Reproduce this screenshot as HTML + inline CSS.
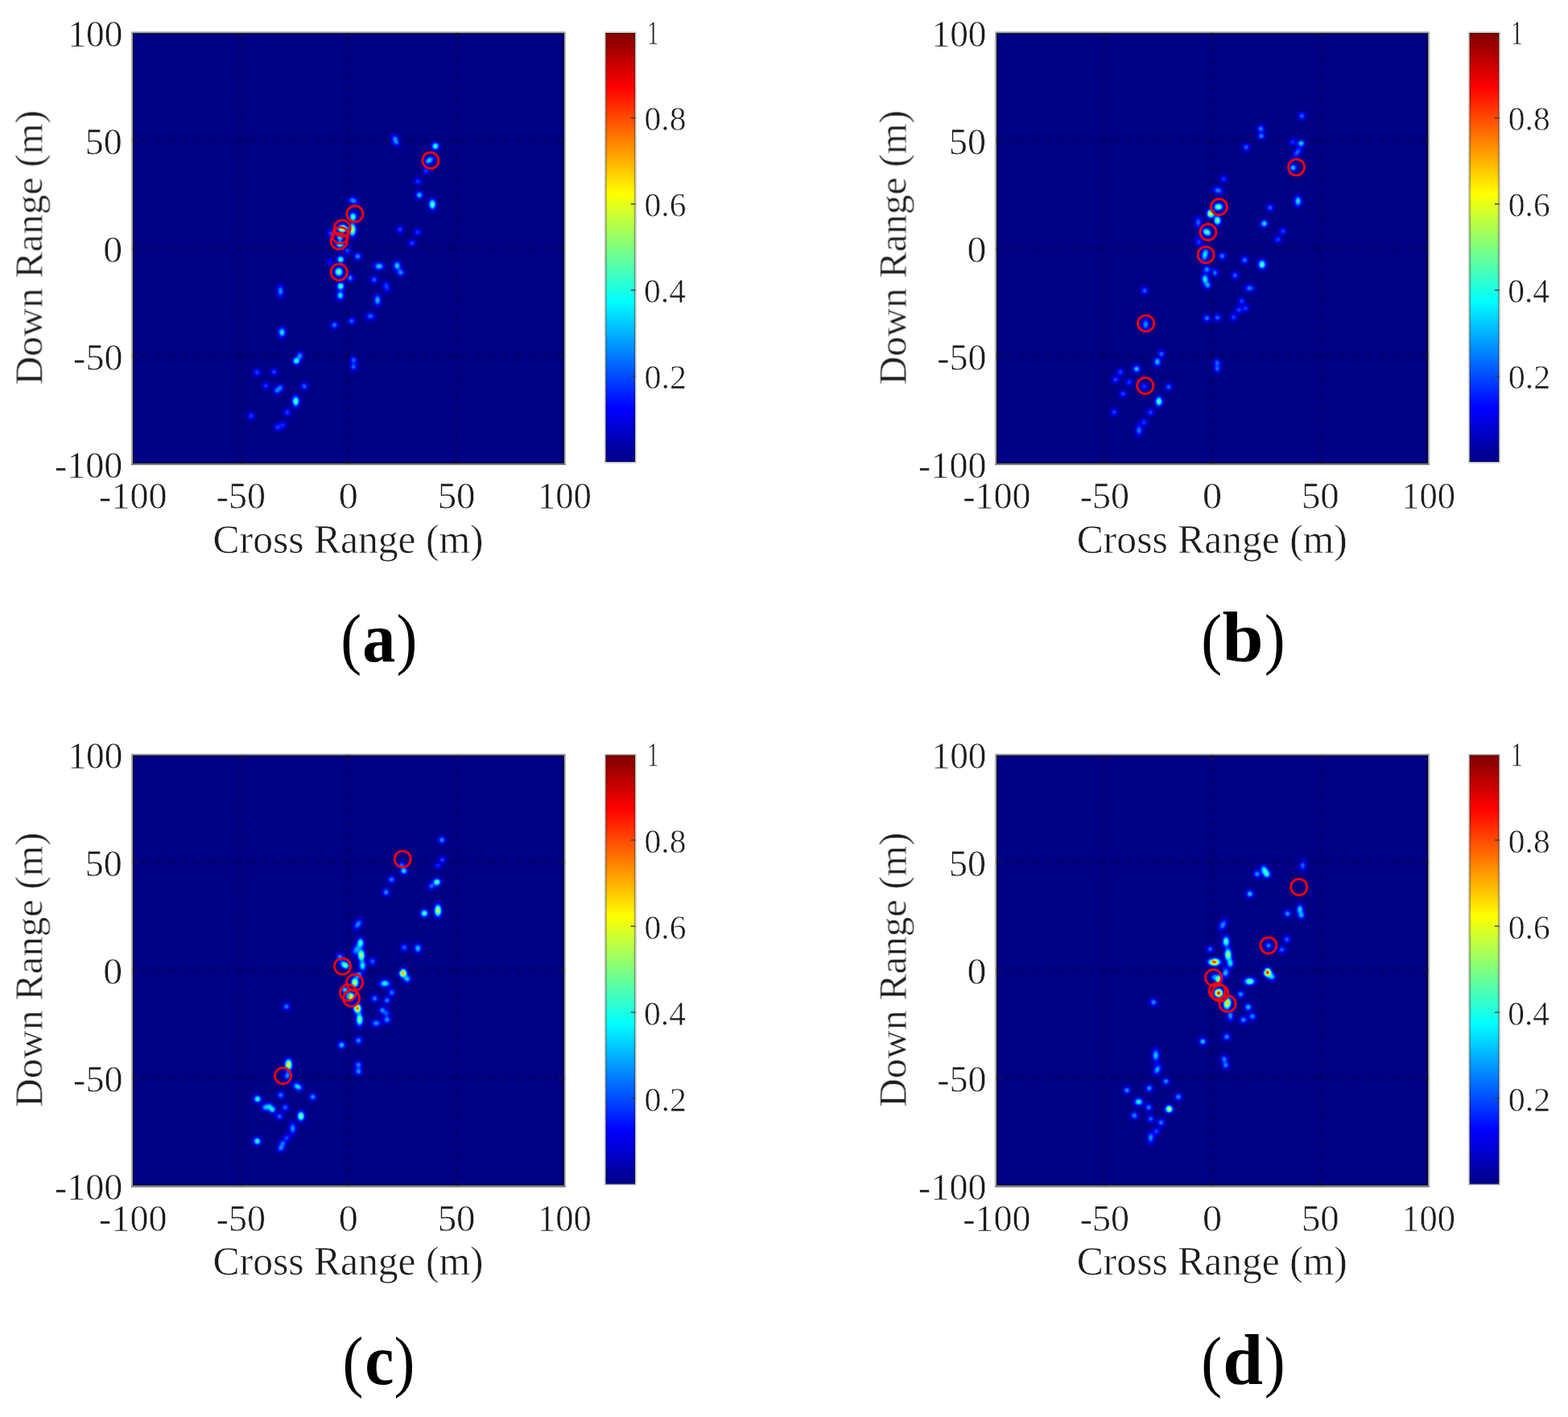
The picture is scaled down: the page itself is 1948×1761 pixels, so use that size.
<!DOCTYPE html>
<html lang="en"><head><meta charset="utf-8"><title>Figure</title>
<style>html,body{margin:0;padding:0;background:#fff}body{width:1948px;height:1761px;overflow:hidden}svg{display:block}text{font-family:"Liberation Serif","DejaVu Serif",serif;fill:#1c1c1c;stroke:#fff;stroke-width:.55px;paint-order:fill stroke}.t{font-size:46px}.cb{font-size:41.5px}.ax{font-size:49.6px}.cap{font-size:86px;fill:#000;stroke:none}</style></head><body>
<svg width="1948" height="1761" viewBox="0 0 1948 1761">
<defs>
<filter id="tx" x="-5%" y="-20%" width="110%" height="140%"><feGaussianBlur stdDeviation="0.55"/></filter>
<filter id="ring" x="-2%" y="-2%" width="104%" height="104%"><feGaussianBlur stdDeviation="0.5"/></filter>
<filter id="soft" x="-2%" y="-2%" width="104%" height="104%"><feGaussianBlur stdDeviation="0.85"/></filter>
<linearGradient id="jet" x1="0" y1="0" x2="0" y2="1"><stop offset="0.000" stop-color="#800000"/><stop offset="0.125" stop-color="#ff0000"/><stop offset="0.375" stop-color="#ffff00"/><stop offset="0.625" stop-color="#00ffff"/><stop offset="0.875" stop-color="#0000ff"/><stop offset="1.000" stop-color="#000085"/></linearGradient>
<radialGradient id="gs"><stop offset="0.000" stop-color="#fff" stop-opacity="1.000"/><stop offset="0.062" stop-color="#fff" stop-opacity="0.983"/><stop offset="0.125" stop-color="#fff" stop-opacity="0.932"/><stop offset="0.188" stop-color="#fff" stop-opacity="0.854"/><stop offset="0.250" stop-color="#fff" stop-opacity="0.755"/><stop offset="0.312" stop-color="#fff" stop-opacity="0.644"/><stop offset="0.375" stop-color="#fff" stop-opacity="0.531"/><stop offset="0.438" stop-color="#fff" stop-opacity="0.423"/><stop offset="0.500" stop-color="#fff" stop-opacity="0.325"/><stop offset="0.562" stop-color="#fff" stop-opacity="0.241"/><stop offset="0.625" stop-color="#fff" stop-opacity="0.172"/><stop offset="0.688" stop-color="#fff" stop-opacity="0.119"/><stop offset="0.750" stop-color="#fff" stop-opacity="0.080"/><stop offset="0.812" stop-color="#fff" stop-opacity="0.051"/><stop offset="0.875" stop-color="#fff" stop-opacity="0.032"/><stop offset="0.938" stop-color="#fff" stop-opacity="0.019"/><stop offset="1.000" stop-color="#fff" stop-opacity="0.000"/></radialGradient>
<filter id="jetmap" x="0" y="0" width="100%" height="100%" color-interpolation-filters="sRGB"><feGaussianBlur stdDeviation="0.6"/><feComponentTransfer><feFuncR type="table" tableValues="0 0 0 0 .5 1 1 1 .5"/><feFuncG type="table" tableValues="0 0 .5 1 1 1 .5 0 0"/><feFuncB type="table" tableValues="0.522 1 1 1 .5 0 0 0 0"/><feFuncA type="linear" slope="0" intercept="1"/></feComponentTransfer></filter>
</defs>
<g transform="translate(0.0,0.0)">
<g filter="url(#jetmap)">
<rect x="165" y="41" width="536" height="535" fill="#000"/>
<ellipse cx="410.1" cy="325.6" rx="9.1" ry="9.1" fill="url(#gs)" fill-opacity="0.13"/>
<ellipse cx="481.0" cy="359.4" rx="9.1" ry="9.1" fill="url(#gs)" fill-opacity="0.14"/>
<ellipse cx="479.4" cy="354.1" rx="9.1" ry="9.1" fill="url(#gs)" fill-opacity="0.17"/>
<ellipse cx="351.6" cy="527.9" rx="9.1" ry="9.1" fill="url(#gs)" fill-opacity="0.17"/>
<ellipse cx="529.5" cy="212.4" rx="9.1" ry="9.1" fill="url(#gs)" fill-opacity="0.19"/>
<ellipse cx="519.2" cy="225.5" rx="9.1" ry="9.1" fill="url(#gs)" fill-opacity="0.19"/>
<ellipse cx="410.9" cy="290.1" rx="8.8" ry="11.9" fill="url(#gs)" fill-opacity="0.19"/>
<ellipse cx="518.7" cy="288.6" rx="9.1" ry="9.1" fill="url(#gs)" fill-opacity="0.19"/>
<ellipse cx="330.3" cy="479.4" rx="9.1" ry="9.1" fill="url(#gs)" fill-opacity="0.19"/>
<ellipse cx="344.7" cy="531.0" rx="9.1" ry="9.1" fill="url(#gs)" fill-opacity="0.19"/>
<ellipse cx="497.1" cy="285.2" rx="9.1" ry="9.1" fill="url(#gs)" fill-opacity="0.20"/>
<ellipse cx="511.8" cy="302.2" rx="9.1" ry="9.1" fill="url(#gs)" fill-opacity="0.20"/>
<ellipse cx="319.3" cy="462.7" rx="9.1" ry="9.1" fill="url(#gs)" fill-opacity="0.20"/>
<ellipse cx="340.5" cy="462.4" rx="9.1" ry="9.1" fill="url(#gs)" fill-opacity="0.20"/>
<ellipse cx="357.0" cy="512.5" rx="9.1" ry="9.1" fill="url(#gs)" fill-opacity="0.20"/>
<ellipse cx="312.0" cy="516.8" rx="9.1" ry="9.1" fill="url(#gs)" fill-opacity="0.20"/>
<ellipse cx="431.7" cy="310.9" rx="9.1" ry="9.1" fill="url(#gs)" fill-opacity="0.23"/>
<ellipse cx="464.8" cy="347.6" rx="9.1" ry="9.1" fill="url(#gs)" fill-opacity="0.23"/>
<ellipse cx="460.2" cy="393.1" rx="11.9" ry="9.1" fill="url(#gs)" fill-opacity="0.23"/>
<ellipse cx="436.8" cy="399.0" rx="9.1" ry="9.1" fill="url(#gs)" fill-opacity="0.23"/>
<ellipse cx="439.4" cy="447.3" rx="9.1" ry="9.1" fill="url(#gs)" fill-opacity="0.23"/>
<ellipse cx="439.1" cy="456.0" rx="9.1" ry="9.1" fill="url(#gs)" fill-opacity="0.23"/>
<ellipse cx="348.5" cy="481.7" rx="9.1" ry="9.1" fill="url(#gs)" fill-opacity="0.23"/>
<ellipse cx="343.9" cy="485.5" rx="9.1" ry="9.1" fill="url(#gs)" fill-opacity="0.23"/>
<ellipse cx="378.1" cy="480.1" rx="9.1" ry="9.1" fill="url(#gs)" fill-opacity="0.23"/>
<ellipse cx="415.5" cy="403.9" rx="9.1" ry="9.1" fill="url(#gs)" fill-opacity="0.26"/>
<ellipse cx="438.6" cy="249.3" rx="12.8" ry="8.8" fill="url(#gs)" fill-opacity="0.28" transform="rotate(20 438.6 249.3)"/>
<ellipse cx="444.5" cy="318.6" rx="9.1" ry="9.1" fill="url(#gs)" fill-opacity="0.28"/>
<ellipse cx="434.8" cy="345.3" rx="9.1" ry="9.1" fill="url(#gs)" fill-opacity="0.28"/>
<ellipse cx="497.9" cy="338.7" rx="9.1" ry="9.1" fill="url(#gs)" fill-opacity="0.28"/>
<ellipse cx="348.5" cy="361.8" rx="8.8" ry="14.6" fill="url(#gs)" fill-opacity="0.28"/>
<ellipse cx="372.9" cy="442.1" rx="9.1" ry="9.1" fill="url(#gs)" fill-opacity="0.28"/>
<ellipse cx="469.0" cy="373.0" rx="8.8" ry="13.7" fill="url(#gs)" fill-opacity="0.32"/>
<ellipse cx="491.7" cy="174.6" rx="8.8" ry="13.7" fill="url(#gs)" fill-opacity="0.33" transform="rotate(-25 491.7 174.6)"/>
<ellipse cx="521.0" cy="242.4" rx="9.1" ry="9.1" fill="url(#gs)" fill-opacity="0.33"/>
<ellipse cx="533.3" cy="199.3" rx="12.8" ry="8.8" fill="url(#gs)" fill-opacity="0.35" transform="rotate(-35 533.3 199.3)"/>
<ellipse cx="471.0" cy="331.0" rx="11.9" ry="9.1" fill="url(#gs)" fill-opacity="0.35"/>
<ellipse cx="493.3" cy="330.2" rx="9.1" ry="11.0" fill="url(#gs)" fill-opacity="0.35"/>
<ellipse cx="422.4" cy="294.8" rx="9.1" ry="9.1" fill="url(#gs)" fill-opacity="0.37"/>
<ellipse cx="422.8" cy="367.1" rx="9.1" ry="11.0" fill="url(#gs)" fill-opacity="0.37"/>
<ellipse cx="350.4" cy="413.1" rx="9.1" ry="11.9" fill="url(#gs)" fill-opacity="0.37"/>
<ellipse cx="422.4" cy="304.0" rx="11.0" ry="9.1" fill="url(#gs)" fill-opacity="0.39"/>
<ellipse cx="368.2" cy="448.6" rx="9.1" ry="9.1" fill="url(#gs)" fill-opacity="0.43"/>
<ellipse cx="541.0" cy="181.6" rx="9.1" ry="9.1" fill="url(#gs)" fill-opacity="0.44"/>
<ellipse cx="438.6" cy="269.4" rx="9.1" ry="11.0" fill="url(#gs)" fill-opacity="0.44"/>
<ellipse cx="423.2" cy="322.5" rx="9.1" ry="9.1" fill="url(#gs)" fill-opacity="0.44"/>
<ellipse cx="423.2" cy="355.6" rx="9.1" ry="9.1" fill="url(#gs)" fill-opacity="0.47"/>
<ellipse cx="537.2" cy="254.0" rx="8.8" ry="12.8" fill="url(#gs)" fill-opacity="0.48"/>
<ellipse cx="367.5" cy="498.6" rx="8.8" ry="12.8" fill="url(#gs)" fill-opacity="0.48"/>
<ellipse cx="420.9" cy="337.9" rx="10.1" ry="11.0" fill="url(#gs)" fill-opacity="0.52"/>
<ellipse cx="437.8" cy="285.5" rx="8.8" ry="15.6" fill="url(#gs)" fill-opacity="0.58"/>
<ellipse cx="425.5" cy="284.0" rx="11.0" ry="9.1" fill="url(#gs)" fill-opacity="0.70"/>
</g>
<rect x="165.6" y="41.9" width="534.6" height="533.3" fill="none" stroke="#00002a" stroke-opacity="0.85" stroke-width="1.4"/>
<rect x="163.9" y="40.2" width="537.9" height="536.7" fill="none" stroke="#a2a29c" stroke-width="1.9"/>
<rect x="162.95" y="575.9" width="539.8" height="2" fill="#7c7e72"/>
<g filter="url(#soft)">
<g stroke="#000034" stroke-opacity="0.55" stroke-width="2" stroke-dasharray="9.6 7" fill="none">
<line x1="298.4" y1="42.4" x2="298.4" y2="574.7" stroke-dashoffset="3.9"/>
<line x1="432.8" y1="42.4" x2="432.8" y2="574.7" stroke-dashoffset="3.9"/>
<line x1="567.2" y1="42.4" x2="567.2" y2="574.7" stroke-dashoffset="3.9"/>
<line x1="166.0" y1="174.5" x2="699.6" y2="174.5" stroke-dashoffset="8"/>
<line x1="166.0" y1="308.6" x2="699.6" y2="308.6" stroke-dashoffset="8"/>
<line x1="166.0" y1="442.6" x2="699.6" y2="442.6" stroke-dashoffset="8"/>
</g>
<g stroke="#1c1c18" stroke-opacity="0.75" stroke-width="2">
<line x1="298.4" y1="569.7" x2="298.4" y2="575.7"/>
<line x1="298.4" y1="41.4" x2="298.4" y2="47.4"/>
<line x1="432.8" y1="569.7" x2="432.8" y2="575.7"/>
<line x1="432.8" y1="41.4" x2="432.8" y2="47.4"/>
<line x1="567.2" y1="569.7" x2="567.2" y2="575.7"/>
<line x1="567.2" y1="41.4" x2="567.2" y2="47.4"/>
<line x1="165.0" y1="174.5" x2="171.0" y2="174.5"/>
<line x1="694.6" y1="174.5" x2="700.6" y2="174.5"/>
<line x1="165.0" y1="308.6" x2="171.0" y2="308.6"/>
<line x1="694.6" y1="308.6" x2="700.6" y2="308.6"/>
<line x1="165.0" y1="442.6" x2="171.0" y2="442.6"/>
<line x1="694.6" y1="442.6" x2="700.6" y2="442.6"/>
</g>
</g>
<g filter="url(#ring)">
<g stroke="#ff0000" stroke-width="2.75" fill="none">
<circle cx="534.9" cy="199.3" r="10.05"/>
<circle cx="440.9" cy="265.8" r="10.05"/>
<circle cx="425.2" cy="283.7" r="10.05"/>
<circle cx="422.8" cy="292.5" r="10.05"/>
<circle cx="421.2" cy="299.7" r="10.05"/>
<circle cx="421.2" cy="338.2" r="10.05"/>
</g>
</g>
<rect x="751.0" y="39.4" width="39.6" height="536.2" fill="#c2c2bb"/>
<rect x="752.6" y="41.0" width="36.4" height="533.0" fill="url(#jet)"/>
<g fill="#000" fill-opacity="0.3">
<rect x="752.6" y="41.0" width="1.3" height="533.0"/>
<rect x="787.7" y="41.0" width="1.3" height="533.0"/>
<rect x="752.6" y="41.0" width="36.4" height="1.2"/>
</g>
<g stroke="#3a3a3a" stroke-width="1.3">
<line x1="783.6" y1="467.7" x2="789.6" y2="467.7"/>
<line x1="783.6" y1="360.6" x2="789.6" y2="360.6"/>
<line x1="783.6" y1="253.6" x2="789.6" y2="253.6"/>
<line x1="783.6" y1="146.6" x2="789.6" y2="146.6"/>
</g>
<g filter="url(#tx)">
<g class="cb">
<text x="804.1" y="54.9" textLength="14.5" lengthAdjust="spacingAndGlyphs">1</text>
<text x="800.6" y="162.0">0.8</text>
<text x="800.6" y="269.0">0.6</text>
<text x="800.0" y="376.0">0.4</text>
<text x="800.6" y="483.1" textLength="52.5" lengthAdjust="spacingAndGlyphs">0.2</text>
</g>
<g class="t">
<text x="84.4" y="57.6" textLength="67.9" lengthAdjust="spacingAndGlyphs">100</text>
<text x="105.7" y="191.7">50</text>
<text x="128.2" y="325.8" textLength="23.9" lengthAdjust="spacingAndGlyphs">0</text>
<text x="91.1" y="459.8">-50</text>
<text x="67.9" y="593.9">-100</text>
<text x="123.1" y="632.2">-100</text>
<text x="268.6" y="632.2">-50</text>
<text x="420.8" y="632.2" textLength="24.1" lengthAdjust="spacingAndGlyphs">0</text>
<text x="543.7" y="632.2" textLength="46.8" lengthAdjust="spacingAndGlyphs">50</text>
<text x="668.0" y="632.2" textLength="66.9" lengthAdjust="spacingAndGlyphs">100</text>
</g>
<text class="ax" text-anchor="middle" x="432.6" y="686.6">Cross Range (m)</text>
<text class="ax" style="font-size:49.2px" text-anchor="middle" transform="translate(52.4,307.6) rotate(-90)">Down Range (m)</text>
</g>
<text class="cap" y="821.6"><tspan x="423.3" font-size="85.5" textLength="25.9" lengthAdjust="spacingAndGlyphs">(</tspan><tspan x="450.3" font-size="88.0" font-weight="bold" textLength="41.0" lengthAdjust="spacingAndGlyphs">a</tspan><tspan x="492.5" font-size="85.5" textLength="25.9" lengthAdjust="spacingAndGlyphs">)</tspan></text>
</g>
<g transform="translate(1073.2,0.0)">
<g filter="url(#jetmap)">
<rect x="165" y="41" width="536" height="535" fill="#000"/>
<ellipse cx="532.4" cy="176.2" rx="9.1" ry="9.1" fill="url(#gs)" fill-opacity="0.19"/>
<ellipse cx="447.0" cy="222.4" rx="9.1" ry="9.1" fill="url(#gs)" fill-opacity="0.19"/>
<ellipse cx="416.2" cy="300.9" rx="8.8" ry="12.8" fill="url(#gs)" fill-opacity="0.19"/>
<ellipse cx="474.4" cy="383.1" rx="9.1" ry="9.1" fill="url(#gs)" fill-opacity="0.19"/>
<ellipse cx="329.6" cy="474.8" rx="9.1" ry="9.1" fill="url(#gs)" fill-opacity="0.19"/>
<ellipse cx="348.4" cy="480.1" rx="9.1" ry="9.1" fill="url(#gs)" fill-opacity="0.19"/>
<ellipse cx="348.1" cy="524.8" rx="9.1" ry="9.1" fill="url(#gs)" fill-opacity="0.19"/>
<ellipse cx="520.6" cy="287.4" rx="9.1" ry="9.1" fill="url(#gs)" fill-opacity="0.20"/>
<ellipse cx="514.4" cy="297.6" rx="9.1" ry="9.1" fill="url(#gs)" fill-opacity="0.20"/>
<ellipse cx="469.3" cy="374.2" rx="9.1" ry="9.1" fill="url(#gs)" fill-opacity="0.20"/>
<ellipse cx="465.8" cy="385.0" rx="9.1" ry="9.1" fill="url(#gs)" fill-opacity="0.20"/>
<ellipse cx="459.3" cy="394.2" rx="9.1" ry="9.1" fill="url(#gs)" fill-opacity="0.20"/>
<ellipse cx="318.8" cy="462.4" rx="9.1" ry="9.1" fill="url(#gs)" fill-opacity="0.20"/>
<ellipse cx="312.7" cy="471.7" rx="9.1" ry="9.1" fill="url(#gs)" fill-opacity="0.20"/>
<ellipse cx="321.9" cy="489.4" rx="9.1" ry="9.1" fill="url(#gs)" fill-opacity="0.20"/>
<ellipse cx="311.0" cy="512.2" rx="9.1" ry="9.1" fill="url(#gs)" fill-opacity="0.20"/>
<ellipse cx="356.1" cy="512.5" rx="9.1" ry="9.1" fill="url(#gs)" fill-opacity="0.20"/>
<ellipse cx="544.3" cy="144.2" rx="9.1" ry="9.1" fill="url(#gs)" fill-opacity="0.23"/>
<ellipse cx="475.0" cy="183.1" rx="9.1" ry="9.1" fill="url(#gs)" fill-opacity="0.23"/>
<ellipse cx="538.6" cy="189.3" rx="8.8" ry="15.6" fill="url(#gs)" fill-opacity="0.23" transform="rotate(35 538.6 189.3)"/>
<ellipse cx="415.4" cy="276.3" rx="8.8" ry="13.7" fill="url(#gs)" fill-opacity="0.23"/>
<ellipse cx="504.7" cy="258.1" rx="9.1" ry="9.1" fill="url(#gs)" fill-opacity="0.23"/>
<ellipse cx="461.1" cy="342.2" rx="9.1" ry="9.1" fill="url(#gs)" fill-opacity="0.23"/>
<ellipse cx="348.9" cy="361.3" rx="9.1" ry="9.1" fill="url(#gs)" fill-opacity="0.23"/>
<ellipse cx="439.3" cy="394.7" rx="9.1" ry="9.1" fill="url(#gs)" fill-opacity="0.23"/>
<ellipse cx="370.0" cy="439.8" rx="9.1" ry="9.1" fill="url(#gs)" fill-opacity="0.23"/>
<ellipse cx="439.0" cy="450.6" rx="9.1" ry="9.1" fill="url(#gs)" fill-opacity="0.23"/>
<ellipse cx="439.0" cy="458.3" rx="9.1" ry="9.1" fill="url(#gs)" fill-opacity="0.23"/>
<ellipse cx="378.7" cy="480.9" rx="9.1" ry="9.1" fill="url(#gs)" fill-opacity="0.23"/>
<ellipse cx="426.2" cy="395.4" rx="9.1" ry="9.1" fill="url(#gs)" fill-opacity="0.25"/>
<ellipse cx="341.9" cy="534.8" rx="8.8" ry="13.7" fill="url(#gs)" fill-opacity="0.25"/>
<ellipse cx="493.2" cy="160.0" rx="9.1" ry="9.1" fill="url(#gs)" fill-opacity="0.26"/>
<ellipse cx="493.9" cy="169.3" rx="9.1" ry="9.1" fill="url(#gs)" fill-opacity="0.26"/>
<ellipse cx="440.0" cy="236.6" rx="12.8" ry="9.1" fill="url(#gs)" fill-opacity="0.26" transform="rotate(15 440.0 236.6)"/>
<ellipse cx="445.1" cy="318.2" rx="9.1" ry="9.1" fill="url(#gs)" fill-opacity="0.26"/>
<ellipse cx="473.1" cy="323.3" rx="9.1" ry="9.1" fill="url(#gs)" fill-opacity="0.26"/>
<ellipse cx="435.9" cy="339.1" rx="9.1" ry="9.1" fill="url(#gs)" fill-opacity="0.26"/>
<ellipse cx="479.3" cy="358.2" rx="11.9" ry="9.1" fill="url(#gs)" fill-opacity="0.26"/>
<ellipse cx="426.2" cy="334.8" rx="9.1" ry="9.1" fill="url(#gs)" fill-opacity="0.28"/>
<ellipse cx="427.3" cy="354.6" rx="9.1" ry="9.1" fill="url(#gs)" fill-opacity="0.28"/>
<ellipse cx="350.2" cy="403.1" rx="8.8" ry="13.7" fill="url(#gs)" fill-opacity="0.28"/>
<ellipse cx="533.2" cy="208.5" rx="9.1" ry="9.1" fill="url(#gs)" fill-opacity="0.33"/>
<ellipse cx="364.6" cy="449.7" rx="8.8" ry="11.0" fill="url(#gs)" fill-opacity="0.33"/>
<ellipse cx="338.9" cy="458.6" rx="9.1" ry="9.1" fill="url(#gs)" fill-opacity="0.33"/>
<ellipse cx="543.2" cy="177.7" rx="9.1" ry="9.1" fill="url(#gs)" fill-opacity="0.35"/>
<ellipse cx="539.4" cy="250.1" rx="8.8" ry="12.8" fill="url(#gs)" fill-opacity="0.37"/>
<ellipse cx="497.5" cy="277.8" rx="9.1" ry="9.1" fill="url(#gs)" fill-opacity="0.37"/>
<ellipse cx="423.9" cy="316.3" rx="8.8" ry="17.4" fill="url(#gs)" fill-opacity="0.37" transform="rotate(12 423.9 316.3)"/>
<ellipse cx="423.9" cy="346.9" rx="8.8" ry="11.9" fill="url(#gs)" fill-opacity="0.39"/>
<ellipse cx="366.6" cy="498.9" rx="8.8" ry="11.9" fill="url(#gs)" fill-opacity="0.47"/>
<ellipse cx="426.2" cy="288.6" rx="11.9" ry="8.8" fill="url(#gs)" fill-opacity="0.48" transform="rotate(30 426.2 288.6)"/>
<ellipse cx="494.7" cy="328.7" rx="9.1" ry="11.0" fill="url(#gs)" fill-opacity="0.48"/>
<ellipse cx="440.5" cy="257.1" rx="11.0" ry="9.1" fill="url(#gs)" fill-opacity="0.52"/>
<ellipse cx="439.3" cy="274.0" rx="8.8" ry="11.0" fill="url(#gs)" fill-opacity="0.52"/>
<ellipse cx="430.8" cy="265.5" rx="9.1" ry="10.1" fill="url(#gs)" fill-opacity="0.63"/>
</g>
<rect x="165.6" y="41.9" width="534.6" height="533.3" fill="none" stroke="#00002a" stroke-opacity="0.85" stroke-width="1.4"/>
<rect x="163.9" y="40.2" width="537.9" height="536.7" fill="none" stroke="#a2a29c" stroke-width="1.9"/>
<rect x="162.95" y="575.9" width="539.8" height="2" fill="#7c7e72"/>
<g filter="url(#soft)">
<g stroke="#000034" stroke-opacity="0.55" stroke-width="2" stroke-dasharray="9.6 7" fill="none">
<line x1="298.4" y1="42.4" x2="298.4" y2="574.7" stroke-dashoffset="3.9"/>
<line x1="432.8" y1="42.4" x2="432.8" y2="574.7" stroke-dashoffset="3.9"/>
<line x1="567.2" y1="42.4" x2="567.2" y2="574.7" stroke-dashoffset="3.9"/>
<line x1="166.0" y1="174.5" x2="699.6" y2="174.5" stroke-dashoffset="8"/>
<line x1="166.0" y1="308.6" x2="699.6" y2="308.6" stroke-dashoffset="8"/>
<line x1="166.0" y1="442.6" x2="699.6" y2="442.6" stroke-dashoffset="8"/>
</g>
<g stroke="#1c1c18" stroke-opacity="0.75" stroke-width="2">
<line x1="298.4" y1="569.7" x2="298.4" y2="575.7"/>
<line x1="298.4" y1="41.4" x2="298.4" y2="47.4"/>
<line x1="432.8" y1="569.7" x2="432.8" y2="575.7"/>
<line x1="432.8" y1="41.4" x2="432.8" y2="47.4"/>
<line x1="567.2" y1="569.7" x2="567.2" y2="575.7"/>
<line x1="567.2" y1="41.4" x2="567.2" y2="47.4"/>
<line x1="165.0" y1="174.5" x2="171.0" y2="174.5"/>
<line x1="694.6" y1="174.5" x2="700.6" y2="174.5"/>
<line x1="165.0" y1="308.6" x2="171.0" y2="308.6"/>
<line x1="694.6" y1="308.6" x2="700.6" y2="308.6"/>
<line x1="165.0" y1="442.6" x2="171.0" y2="442.6"/>
<line x1="694.6" y1="442.6" x2="700.6" y2="442.6"/>
</g>
</g>
<g filter="url(#ring)">
<g stroke="#ff0000" stroke-width="2.75" fill="none">
<circle cx="537.4" cy="207.8" r="10.05"/>
<circle cx="441.3" cy="257.1" r="10.05"/>
<circle cx="427.7" cy="288.3" r="10.05"/>
<circle cx="424.9" cy="316.7" r="10.05"/>
<circle cx="350.4" cy="401.9" r="10.05"/>
<circle cx="349.6" cy="479.4" r="10.05"/>
</g>
</g>
<rect x="751.0" y="39.4" width="39.6" height="536.2" fill="#c2c2bb"/>
<rect x="752.6" y="41.0" width="36.4" height="533.0" fill="url(#jet)"/>
<g fill="#000" fill-opacity="0.3">
<rect x="752.6" y="41.0" width="1.3" height="533.0"/>
<rect x="787.7" y="41.0" width="1.3" height="533.0"/>
<rect x="752.6" y="41.0" width="36.4" height="1.2"/>
</g>
<g stroke="#3a3a3a" stroke-width="1.3">
<line x1="783.6" y1="467.7" x2="789.6" y2="467.7"/>
<line x1="783.6" y1="360.6" x2="789.6" y2="360.6"/>
<line x1="783.6" y1="253.6" x2="789.6" y2="253.6"/>
<line x1="783.6" y1="146.6" x2="789.6" y2="146.6"/>
</g>
<g filter="url(#tx)">
<g class="cb">
<text x="804.1" y="54.9" textLength="14.5" lengthAdjust="spacingAndGlyphs">1</text>
<text x="800.6" y="162.0">0.8</text>
<text x="800.6" y="269.0">0.6</text>
<text x="800.0" y="376.0">0.4</text>
<text x="800.6" y="483.1" textLength="52.5" lengthAdjust="spacingAndGlyphs">0.2</text>
</g>
<g class="t">
<text x="84.4" y="57.6" textLength="67.9" lengthAdjust="spacingAndGlyphs">100</text>
<text x="105.7" y="191.7">50</text>
<text x="128.2" y="325.8" textLength="23.9" lengthAdjust="spacingAndGlyphs">0</text>
<text x="91.1" y="459.8">-50</text>
<text x="67.9" y="593.9">-100</text>
<text x="123.1" y="632.2">-100</text>
<text x="268.6" y="632.2">-50</text>
<text x="420.8" y="632.2" textLength="24.1" lengthAdjust="spacingAndGlyphs">0</text>
<text x="543.7" y="632.2" textLength="46.8" lengthAdjust="spacingAndGlyphs">50</text>
<text x="668.0" y="632.2" textLength="66.9" lengthAdjust="spacingAndGlyphs">100</text>
</g>
<text class="ax" text-anchor="middle" x="432.6" y="686.6">Cross Range (m)</text>
<text class="ax" style="font-size:49.2px" text-anchor="middle" transform="translate(52.4,307.6) rotate(-90)">Down Range (m)</text>
</g>
<text class="cap" y="821.6"><tspan x="419.1" font-size="85.5" textLength="25.9" lengthAdjust="spacingAndGlyphs">(</tspan><tspan x="445.4" font-size="88.0" font-weight="bold" textLength="51.1" lengthAdjust="spacingAndGlyphs">b</tspan><tspan x="497.5" font-size="85.5" textLength="25.9" lengthAdjust="spacingAndGlyphs">)</tspan></text>
</g>
<g transform="translate(0.0,897.5)">
<g filter="url(#jetmap)">
<rect x="165" y="41" width="536" height="535" fill="#000"/>
<ellipse cx="543.8" cy="177.9" rx="9.1" ry="9.1" fill="url(#gs)" fill-opacity="0.17"/>
<ellipse cx="480.2" cy="361.8" rx="9.1" ry="9.1" fill="url(#gs)" fill-opacity="0.19"/>
<ellipse cx="549.5" cy="171.0" rx="9.1" ry="9.1" fill="url(#gs)" fill-opacity="0.20"/>
<ellipse cx="356.2" cy="516.5" rx="9.1" ry="9.1" fill="url(#gs)" fill-opacity="0.20"/>
<ellipse cx="498.7" cy="177.2" rx="9.1" ry="9.1" fill="url(#gs)" fill-opacity="0.23"/>
<ellipse cx="535.9" cy="203.6" rx="9.1" ry="9.1" fill="url(#gs)" fill-opacity="0.23"/>
<ellipse cx="502.2" cy="280.0" rx="9.1" ry="9.1" fill="url(#gs)" fill-opacity="0.23"/>
<ellipse cx="462.8" cy="297.3" rx="9.1" ry="9.1" fill="url(#gs)" fill-opacity="0.23"/>
<ellipse cx="354.4" cy="478.8" rx="9.1" ry="9.1" fill="url(#gs)" fill-opacity="0.23"/>
<ellipse cx="347.3" cy="489.9" rx="9.1" ry="9.1" fill="url(#gs)" fill-opacity="0.23"/>
<ellipse cx="351.3" cy="523.5" rx="9.1" ry="9.1" fill="url(#gs)" fill-opacity="0.23"/>
<ellipse cx="486.4" cy="195.6" rx="9.1" ry="9.1" fill="url(#gs)" fill-opacity="0.26"/>
<ellipse cx="486.8" cy="336.1" rx="9.1" ry="9.1" fill="url(#gs)" fill-opacity="0.26"/>
<ellipse cx="465.6" cy="343.5" rx="9.1" ry="9.1" fill="url(#gs)" fill-opacity="0.26"/>
<ellipse cx="480.7" cy="345.8" rx="9.1" ry="9.1" fill="url(#gs)" fill-opacity="0.26"/>
<ellipse cx="355.9" cy="353.5" rx="9.1" ry="9.1" fill="url(#gs)" fill-opacity="0.26"/>
<ellipse cx="474.8" cy="357.9" rx="9.1" ry="9.1" fill="url(#gs)" fill-opacity="0.26"/>
<ellipse cx="445.2" cy="425.7" rx="9.1" ry="9.1" fill="url(#gs)" fill-opacity="0.26"/>
<ellipse cx="348.8" cy="463.4" rx="9.1" ry="9.1" fill="url(#gs)" fill-opacity="0.26"/>
<ellipse cx="334.7" cy="477.3" rx="9.1" ry="9.1" fill="url(#gs)" fill-opacity="0.26"/>
<ellipse cx="348.8" cy="529.6" rx="9.1" ry="9.1" fill="url(#gs)" fill-opacity="0.26"/>
<ellipse cx="549.0" cy="146.4" rx="9.1" ry="9.1" fill="url(#gs)" fill-opacity="0.28"/>
<ellipse cx="479.7" cy="211.4" rx="9.1" ry="9.1" fill="url(#gs)" fill-opacity="0.28"/>
<ellipse cx="444.8" cy="251.1" rx="8.8" ry="14.6" fill="url(#gs)" fill-opacity="0.28" transform="rotate(35 444.8 251.1)"/>
<ellipse cx="442.5" cy="282.7" rx="8.8" ry="14.6" fill="url(#gs)" fill-opacity="0.28" transform="rotate(30 442.5 282.7)"/>
<ellipse cx="422.4" cy="291.9" rx="9.1" ry="9.1" fill="url(#gs)" fill-opacity="0.28"/>
<ellipse cx="480.7" cy="369.9" rx="9.1" ry="9.1" fill="url(#gs)" fill-opacity="0.28"/>
<ellipse cx="467.4" cy="374.1" rx="11.9" ry="9.1" fill="url(#gs)" fill-opacity="0.28"/>
<ellipse cx="445.5" cy="395.6" rx="9.1" ry="9.1" fill="url(#gs)" fill-opacity="0.28"/>
<ellipse cx="445.5" cy="434.1" rx="9.1" ry="9.1" fill="url(#gs)" fill-opacity="0.28"/>
<ellipse cx="357.0" cy="439.5" rx="8.8" ry="11.0" fill="url(#gs)" fill-opacity="0.28"/>
<ellipse cx="388.6" cy="465.7" rx="9.1" ry="9.1" fill="url(#gs)" fill-opacity="0.28"/>
<ellipse cx="329.3" cy="478.8" rx="9.1" ry="9.1" fill="url(#gs)" fill-opacity="0.28"/>
<ellipse cx="363.6" cy="505.0" rx="8.8" ry="14.6" fill="url(#gs)" fill-opacity="0.28"/>
<ellipse cx="519.2" cy="281.1" rx="9.1" ry="11.0" fill="url(#gs)" fill-opacity="0.33"/>
<ellipse cx="505.9" cy="319.2" rx="9.1" ry="9.1" fill="url(#gs)" fill-opacity="0.33"/>
<ellipse cx="445.5" cy="314.2" rx="9.1" ry="9.1" fill="url(#gs)" fill-opacity="0.33"/>
<ellipse cx="428.6" cy="332.7" rx="9.1" ry="9.1" fill="url(#gs)" fill-opacity="0.33"/>
<ellipse cx="424.4" cy="401.3" rx="9.1" ry="9.1" fill="url(#gs)" fill-opacity="0.33"/>
<ellipse cx="501.8" cy="184.9" rx="9.1" ry="9.1" fill="url(#gs)" fill-opacity="0.35"/>
<ellipse cx="338.5" cy="481.6" rx="9.1" ry="9.1" fill="url(#gs)" fill-opacity="0.35"/>
<ellipse cx="369.8" cy="452.9" rx="12.8" ry="8.8" fill="url(#gs)" fill-opacity="0.37" transform="rotate(30 369.8 452.9)"/>
<ellipse cx="450.5" cy="302.7" rx="8.8" ry="12.8" fill="url(#gs)" fill-opacity="0.39"/>
<ellipse cx="478.2" cy="324.7" rx="12.8" ry="9.1" fill="url(#gs)" fill-opacity="0.40"/>
<ellipse cx="447.9" cy="274.2" rx="8.8" ry="11.9" fill="url(#gs)" fill-opacity="0.43"/>
<ellipse cx="320.0" cy="468.3" rx="9.1" ry="9.1" fill="url(#gs)" fill-opacity="0.43"/>
<ellipse cx="319.6" cy="520.7" rx="9.1" ry="9.1" fill="url(#gs)" fill-opacity="0.43"/>
<ellipse cx="527.2" cy="237.5" rx="9.1" ry="9.1" fill="url(#gs)" fill-opacity="0.47"/>
<ellipse cx="542.9" cy="198.7" rx="9.1" ry="9.1" fill="url(#gs)" fill-opacity="0.48"/>
<ellipse cx="428.6" cy="301.9" rx="12.8" ry="8.8" fill="url(#gs)" fill-opacity="0.48" transform="rotate(35 428.6 301.9)"/>
<ellipse cx="446.8" cy="369.5" rx="8.8" ry="15.6" fill="url(#gs)" fill-opacity="0.52"/>
<ellipse cx="373.9" cy="489.6" rx="8.8" ry="11.9" fill="url(#gs)" fill-opacity="0.52"/>
<ellipse cx="448.9" cy="289.6" rx="8.8" ry="13.7" fill="url(#gs)" fill-opacity="0.58"/>
<ellipse cx="544.1" cy="234.1" rx="8.8" ry="14.6" fill="url(#gs)" fill-opacity="0.61"/>
<ellipse cx="440.9" cy="323.5" rx="9.1" ry="11.9" fill="url(#gs)" fill-opacity="0.61"/>
<ellipse cx="358.5" cy="425.7" rx="8.8" ry="13.7" fill="url(#gs)" fill-opacity="0.65"/>
<ellipse cx="435.5" cy="341.2" rx="10.1" ry="10.1" fill="url(#gs)" fill-opacity="0.67"/>
<ellipse cx="500.7" cy="311.9" rx="9.1" ry="10.1" fill="url(#gs)" fill-opacity="0.74"/>
<ellipse cx="444.0" cy="355.6" rx="8.8" ry="11.0" fill="url(#gs)" fill-opacity="0.79"/>
</g>
<rect x="165.6" y="41.9" width="534.6" height="533.3" fill="none" stroke="#00002a" stroke-opacity="0.85" stroke-width="1.4"/>
<rect x="163.9" y="40.2" width="537.9" height="536.7" fill="none" stroke="#a2a29c" stroke-width="1.9"/>
<rect x="162.95" y="575.9" width="539.8" height="2" fill="#7c7e72"/>
<g filter="url(#soft)">
<g stroke="#000034" stroke-opacity="0.55" stroke-width="2" stroke-dasharray="9.6 7" fill="none">
<line x1="298.4" y1="42.4" x2="298.4" y2="574.7" stroke-dashoffset="3.9"/>
<line x1="432.8" y1="42.4" x2="432.8" y2="574.7" stroke-dashoffset="3.9"/>
<line x1="567.2" y1="42.4" x2="567.2" y2="574.7" stroke-dashoffset="3.9"/>
<line x1="166.0" y1="174.5" x2="699.6" y2="174.5" stroke-dashoffset="8"/>
<line x1="166.0" y1="308.6" x2="699.6" y2="308.6" stroke-dashoffset="8"/>
<line x1="166.0" y1="442.6" x2="699.6" y2="442.6" stroke-dashoffset="8"/>
</g>
<g stroke="#1c1c18" stroke-opacity="0.75" stroke-width="2">
<line x1="298.4" y1="569.7" x2="298.4" y2="575.7"/>
<line x1="298.4" y1="41.4" x2="298.4" y2="47.4"/>
<line x1="432.8" y1="569.7" x2="432.8" y2="575.7"/>
<line x1="432.8" y1="41.4" x2="432.8" y2="47.4"/>
<line x1="567.2" y1="569.7" x2="567.2" y2="575.7"/>
<line x1="567.2" y1="41.4" x2="567.2" y2="47.4"/>
<line x1="165.0" y1="174.5" x2="171.0" y2="174.5"/>
<line x1="694.6" y1="174.5" x2="700.6" y2="174.5"/>
<line x1="165.0" y1="308.6" x2="171.0" y2="308.6"/>
<line x1="694.6" y1="308.6" x2="700.6" y2="308.6"/>
<line x1="165.0" y1="442.6" x2="171.0" y2="442.6"/>
<line x1="694.6" y1="442.6" x2="700.6" y2="442.6"/>
</g>
</g>
<g filter="url(#ring)">
<g stroke="#ff0000" stroke-width="2.75" fill="none">
<circle cx="500.2" cy="170.2" r="10.05"/>
<circle cx="425.5" cy="303.4" r="10.05"/>
<circle cx="440.6" cy="323.5" r="10.05"/>
<circle cx="432.5" cy="336.1" r="10.05"/>
<circle cx="436.6" cy="343.2" r="10.05"/>
<circle cx="351.6" cy="439.5" r="10.05"/>
</g>
</g>
<rect x="751.0" y="39.4" width="39.6" height="536.2" fill="#c2c2bb"/>
<rect x="752.6" y="41.0" width="36.4" height="533.0" fill="url(#jet)"/>
<g fill="#000" fill-opacity="0.3">
<rect x="752.6" y="41.0" width="1.3" height="533.0"/>
<rect x="787.7" y="41.0" width="1.3" height="533.0"/>
<rect x="752.6" y="41.0" width="36.4" height="1.2"/>
</g>
<g stroke="#3a3a3a" stroke-width="1.3">
<line x1="783.6" y1="467.7" x2="789.6" y2="467.7"/>
<line x1="783.6" y1="360.6" x2="789.6" y2="360.6"/>
<line x1="783.6" y1="253.6" x2="789.6" y2="253.6"/>
<line x1="783.6" y1="146.6" x2="789.6" y2="146.6"/>
</g>
<g filter="url(#tx)">
<g class="cb">
<text x="804.1" y="54.9" textLength="14.5" lengthAdjust="spacingAndGlyphs">1</text>
<text x="800.6" y="162.0">0.8</text>
<text x="800.6" y="269.0">0.6</text>
<text x="800.0" y="376.0">0.4</text>
<text x="800.6" y="483.1" textLength="52.5" lengthAdjust="spacingAndGlyphs">0.2</text>
</g>
<g class="t">
<text x="84.4" y="57.6" textLength="67.9" lengthAdjust="spacingAndGlyphs">100</text>
<text x="105.7" y="191.7">50</text>
<text x="128.2" y="325.8" textLength="23.9" lengthAdjust="spacingAndGlyphs">0</text>
<text x="91.1" y="459.8">-50</text>
<text x="67.9" y="593.9">-100</text>
<text x="123.1" y="632.2">-100</text>
<text x="268.6" y="632.2">-50</text>
<text x="420.8" y="632.2" textLength="24.1" lengthAdjust="spacingAndGlyphs">0</text>
<text x="543.7" y="632.2" textLength="46.8" lengthAdjust="spacingAndGlyphs">50</text>
<text x="668.0" y="632.2" textLength="66.9" lengthAdjust="spacingAndGlyphs">100</text>
</g>
<text class="ax" text-anchor="middle" x="432.6" y="686.6">Cross Range (m)</text>
<text class="ax" style="font-size:49.2px" text-anchor="middle" transform="translate(52.4,307.6) rotate(-90)">Down Range (m)</text>
</g>
<text class="cap" y="822.3"><tspan x="425.4" font-size="85.5" textLength="25.9" lengthAdjust="spacingAndGlyphs">(</tspan><tspan x="453.2" font-size="88.0" font-weight="bold" textLength="36.1" lengthAdjust="spacingAndGlyphs">c</tspan><tspan x="489.4" font-size="85.5" textLength="25.9" lengthAdjust="spacingAndGlyphs">)</tspan></text>
</g>
<g transform="translate(1073.2,897.5)">
<g filter="url(#jetmap)">
<rect x="165" y="41" width="536" height="535" fill="#000"/>
<ellipse cx="363.5" cy="508.4" rx="9.1" ry="9.1" fill="url(#gs)" fill-opacity="0.20"/>
<ellipse cx="545.2" cy="177.9" rx="8.8" ry="13.7" fill="url(#gs)" fill-opacity="0.23"/>
<ellipse cx="525.5" cy="269.9" rx="9.1" ry="9.1" fill="url(#gs)" fill-opacity="0.23"/>
<ellipse cx="519.3" cy="282.7" rx="9.1" ry="9.1" fill="url(#gs)" fill-opacity="0.23"/>
<ellipse cx="430.3" cy="281.9" rx="9.1" ry="9.1" fill="url(#gs)" fill-opacity="0.23"/>
<ellipse cx="434.6" cy="316.5" rx="9.1" ry="9.1" fill="url(#gs)" fill-opacity="0.23"/>
<ellipse cx="356.4" cy="493.0" rx="9.1" ry="9.1" fill="url(#gs)" fill-opacity="0.23"/>
<ellipse cx="502.7" cy="277.6" rx="9.1" ry="9.1" fill="url(#gs)" fill-opacity="0.26"/>
<ellipse cx="447.7" cy="418.7" rx="9.1" ry="9.1" fill="url(#gs)" fill-opacity="0.26"/>
<ellipse cx="449.7" cy="426.4" rx="9.1" ry="9.1" fill="url(#gs)" fill-opacity="0.26"/>
<ellipse cx="353.8" cy="478.8" rx="9.1" ry="9.1" fill="url(#gs)" fill-opacity="0.26"/>
<ellipse cx="369.2" cy="497.6" rx="9.1" ry="9.1" fill="url(#gs)" fill-opacity="0.26"/>
<ellipse cx="488.5" cy="188.7" rx="9.1" ry="9.1" fill="url(#gs)" fill-opacity="0.28"/>
<ellipse cx="543.7" cy="240.3" rx="9.1" ry="9.1" fill="url(#gs)" fill-opacity="0.28"/>
<ellipse cx="526.3" cy="238.0" rx="9.1" ry="9.1" fill="url(#gs)" fill-opacity="0.28"/>
<ellipse cx="446.2" cy="251.9" rx="8.8" ry="14.6" fill="url(#gs)" fill-opacity="0.28" transform="rotate(30 446.2 251.9)"/>
<ellipse cx="468.2" cy="338.1" rx="9.1" ry="9.1" fill="url(#gs)" fill-opacity="0.28"/>
<ellipse cx="360.0" cy="348.1" rx="9.1" ry="9.1" fill="url(#gs)" fill-opacity="0.28"/>
<ellipse cx="482.7" cy="365.6" rx="9.1" ry="9.1" fill="url(#gs)" fill-opacity="0.28"/>
<ellipse cx="455.4" cy="364.8" rx="8.8" ry="12.8" fill="url(#gs)" fill-opacity="0.28"/>
<ellipse cx="471.6" cy="369.8" rx="9.1" ry="9.1" fill="url(#gs)" fill-opacity="0.28"/>
<ellipse cx="450.8" cy="391.0" rx="9.1" ry="9.1" fill="url(#gs)" fill-opacity="0.28"/>
<ellipse cx="375.4" cy="446.2" rx="9.1" ry="9.1" fill="url(#gs)" fill-opacity="0.28"/>
<ellipse cx="354.6" cy="454.9" rx="9.1" ry="9.1" fill="url(#gs)" fill-opacity="0.28"/>
<ellipse cx="326.8" cy="457.6" rx="9.1" ry="9.1" fill="url(#gs)" fill-opacity="0.28"/>
<ellipse cx="390.8" cy="465.7" rx="9.1" ry="9.1" fill="url(#gs)" fill-opacity="0.28"/>
<ellipse cx="336.1" cy="488.8" rx="9.1" ry="9.1" fill="url(#gs)" fill-opacity="0.28"/>
<ellipse cx="356.4" cy="516.5" rx="8.8" ry="13.7" fill="url(#gs)" fill-opacity="0.28"/>
<ellipse cx="364.6" cy="431.8" rx="8.8" ry="13.7" fill="url(#gs)" fill-opacity="0.30" transform="rotate(25 364.6 431.8)"/>
<ellipse cx="500.9" cy="189.2" rx="9.1" ry="9.1" fill="url(#gs)" fill-opacity="0.33"/>
<ellipse cx="479.6" cy="213.4" rx="9.1" ry="9.1" fill="url(#gs)" fill-opacity="0.33"/>
<ellipse cx="507.0" cy="316.5" rx="9.1" ry="9.1" fill="url(#gs)" fill-opacity="0.33"/>
<ellipse cx="449.3" cy="311.1" rx="8.8" ry="11.9" fill="url(#gs)" fill-opacity="0.33"/>
<ellipse cx="477.5" cy="354.1" rx="9.1" ry="9.1" fill="url(#gs)" fill-opacity="0.33"/>
<ellipse cx="421.1" cy="396.9" rx="9.1" ry="9.1" fill="url(#gs)" fill-opacity="0.33"/>
<ellipse cx="362.7" cy="414.1" rx="8.8" ry="15.6" fill="url(#gs)" fill-opacity="0.33"/>
<ellipse cx="541.7" cy="232.6" rx="8.8" ry="11.9" fill="url(#gs)" fill-opacity="0.35"/>
<ellipse cx="455.4" cy="299.6" rx="8.8" ry="11.9" fill="url(#gs)" fill-opacity="0.35"/>
<ellipse cx="497.8" cy="184.1" rx="8.8" ry="12.8" fill="url(#gs)" fill-opacity="0.40" transform="rotate(-25 497.8 184.1)"/>
<ellipse cx="341.5" cy="471.9" rx="11.0" ry="9.1" fill="url(#gs)" fill-opacity="0.40"/>
<ellipse cx="450.0" cy="272.6" rx="8.8" ry="12.8" fill="url(#gs)" fill-opacity="0.47"/>
<ellipse cx="479.3" cy="322.2" rx="12.8" ry="9.1" fill="url(#gs)" fill-opacity="0.52"/>
<ellipse cx="452.4" cy="288.8" rx="8.8" ry="14.6" fill="url(#gs)" fill-opacity="0.56"/>
<ellipse cx="440.8" cy="319.6" rx="8.8" ry="11.0" fill="url(#gs)" fill-opacity="0.56"/>
<ellipse cx="379.2" cy="480.8" rx="9.1" ry="9.1" fill="url(#gs)" fill-opacity="0.61"/>
<ellipse cx="451.6" cy="349.6" rx="9.1" ry="13.7" fill="url(#gs)" fill-opacity="0.70" transform="rotate(12 451.6 349.6)"/>
<ellipse cx="435.4" cy="298.1" rx="13.7" ry="8.8" fill="url(#gs)" fill-opacity="0.84"/>
<ellipse cx="501.6" cy="311.1" rx="9.1" ry="10.1" fill="url(#gs)" fill-opacity="0.88"/>
<ellipse cx="440.8" cy="336.6" rx="10.1" ry="10.1" fill="url(#gs)" fill-opacity="0.88"/>
</g>
<rect x="165.6" y="41.9" width="534.6" height="533.3" fill="none" stroke="#00002a" stroke-opacity="0.85" stroke-width="1.4"/>
<rect x="163.9" y="40.2" width="537.9" height="536.7" fill="none" stroke="#a2a29c" stroke-width="1.9"/>
<rect x="162.95" y="575.9" width="539.8" height="2" fill="#7c7e72"/>
<g filter="url(#soft)">
<g stroke="#000034" stroke-opacity="0.55" stroke-width="2" stroke-dasharray="9.6 7" fill="none">
<line x1="298.4" y1="42.4" x2="298.4" y2="574.7" stroke-dashoffset="3.9"/>
<line x1="432.8" y1="42.4" x2="432.8" y2="574.7" stroke-dashoffset="3.9"/>
<line x1="567.2" y1="42.4" x2="567.2" y2="574.7" stroke-dashoffset="3.9"/>
<line x1="166.0" y1="174.5" x2="699.6" y2="174.5" stroke-dashoffset="8"/>
<line x1="166.0" y1="308.6" x2="699.6" y2="308.6" stroke-dashoffset="8"/>
<line x1="166.0" y1="442.6" x2="699.6" y2="442.6" stroke-dashoffset="8"/>
</g>
<g stroke="#1c1c18" stroke-opacity="0.75" stroke-width="2">
<line x1="298.4" y1="569.7" x2="298.4" y2="575.7"/>
<line x1="298.4" y1="41.4" x2="298.4" y2="47.4"/>
<line x1="432.8" y1="569.7" x2="432.8" y2="575.7"/>
<line x1="432.8" y1="41.4" x2="432.8" y2="47.4"/>
<line x1="567.2" y1="569.7" x2="567.2" y2="575.7"/>
<line x1="567.2" y1="41.4" x2="567.2" y2="47.4"/>
<line x1="165.0" y1="174.5" x2="171.0" y2="174.5"/>
<line x1="694.6" y1="174.5" x2="700.6" y2="174.5"/>
<line x1="165.0" y1="308.6" x2="171.0" y2="308.6"/>
<line x1="694.6" y1="308.6" x2="700.6" y2="308.6"/>
<line x1="165.0" y1="442.6" x2="171.0" y2="442.6"/>
<line x1="694.6" y1="442.6" x2="700.6" y2="442.6"/>
</g>
</g>
<g filter="url(#ring)">
<g stroke="#ff0000" stroke-width="2.75" fill="none">
<circle cx="540.6" cy="204.9" r="10.05"/>
<circle cx="502.7" cy="277.3" r="10.05"/>
<circle cx="434.3" cy="317.3" r="10.05"/>
<circle cx="439.1" cy="334.3" r="10.05"/>
<circle cx="442.5" cy="336.8" r="10.05"/>
<circle cx="451.9" cy="349.9" r="10.05"/>
</g>
</g>
<rect x="751.0" y="39.4" width="39.6" height="536.2" fill="#c2c2bb"/>
<rect x="752.6" y="41.0" width="36.4" height="533.0" fill="url(#jet)"/>
<g fill="#000" fill-opacity="0.3">
<rect x="752.6" y="41.0" width="1.3" height="533.0"/>
<rect x="787.7" y="41.0" width="1.3" height="533.0"/>
<rect x="752.6" y="41.0" width="36.4" height="1.2"/>
</g>
<g stroke="#3a3a3a" stroke-width="1.3">
<line x1="783.6" y1="467.7" x2="789.6" y2="467.7"/>
<line x1="783.6" y1="360.6" x2="789.6" y2="360.6"/>
<line x1="783.6" y1="253.6" x2="789.6" y2="253.6"/>
<line x1="783.6" y1="146.6" x2="789.6" y2="146.6"/>
</g>
<g filter="url(#tx)">
<g class="cb">
<text x="804.1" y="54.9" textLength="14.5" lengthAdjust="spacingAndGlyphs">1</text>
<text x="800.6" y="162.0">0.8</text>
<text x="800.6" y="269.0">0.6</text>
<text x="800.0" y="376.0">0.4</text>
<text x="800.6" y="483.1" textLength="52.5" lengthAdjust="spacingAndGlyphs">0.2</text>
</g>
<g class="t">
<text x="84.4" y="57.6" textLength="67.9" lengthAdjust="spacingAndGlyphs">100</text>
<text x="105.7" y="191.7">50</text>
<text x="128.2" y="325.8" textLength="23.9" lengthAdjust="spacingAndGlyphs">0</text>
<text x="91.1" y="459.8">-50</text>
<text x="67.9" y="593.9">-100</text>
<text x="123.1" y="632.2">-100</text>
<text x="268.6" y="632.2">-50</text>
<text x="420.8" y="632.2" textLength="24.1" lengthAdjust="spacingAndGlyphs">0</text>
<text x="543.7" y="632.2" textLength="46.8" lengthAdjust="spacingAndGlyphs">50</text>
<text x="668.0" y="632.2" textLength="66.9" lengthAdjust="spacingAndGlyphs">100</text>
</g>
<text class="ax" text-anchor="middle" x="432.6" y="686.6">Cross Range (m)</text>
<text class="ax" style="font-size:49.2px" text-anchor="middle" transform="translate(52.4,307.6) rotate(-90)">Down Range (m)</text>
</g>
<text class="cap" y="822.3"><tspan x="419.1" font-size="85.5" textLength="25.9" lengthAdjust="spacingAndGlyphs">(</tspan><tspan x="446.1" font-size="88.0" font-weight="bold" textLength="49.8" lengthAdjust="spacingAndGlyphs">d</tspan><tspan x="497.5" font-size="85.5" textLength="25.9" lengthAdjust="spacingAndGlyphs">)</tspan></text>
</g>
</svg>
</body></html>
